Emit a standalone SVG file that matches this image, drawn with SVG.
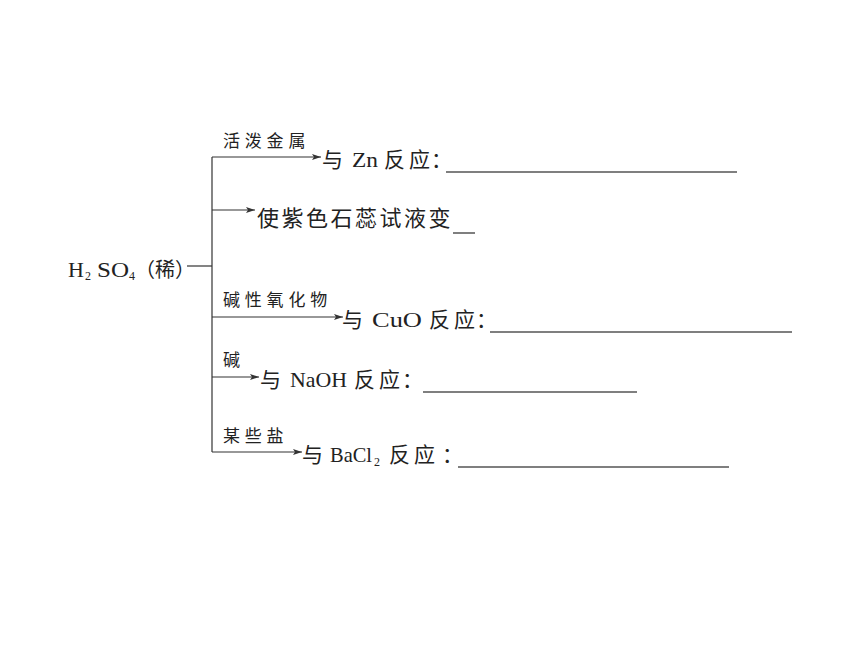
<svg xmlns="http://www.w3.org/2000/svg" width="860" height="645" viewBox="0 0 860 645">
<style>
.cjk{font-family:"Liberation Serif","Noto Sans CJK SC",serif;font-size:21px;fill:#222}
.big{font-size:22px;letter-spacing:2.5px}
.lbl{font-family:"Liberation Serif","Noto Sans CJK SC",serif;font-size:17px;letter-spacing:4.8px;fill:#222}
.lat{font-family:"Liberation Serif",serif;font-size:21px;fill:#222}
.sub{font-family:"Liberation Serif",serif;font-size:12px;fill:#222}
.ln{stroke:#333;stroke-width:1.2;fill:none}
.ar{stroke:#333;stroke-width:1.2;fill:none;marker-end:url(#ah)}
.ul{stroke:#555;stroke-width:1.5}
</style>
<defs>
<marker id="ah" markerUnits="userSpaceOnUse" markerWidth="10" markerHeight="8" refX="9" refY="3" orient="auto">
<path d="M0,0 L9,3 L0,6 L2,3 Z" fill="#333"/>
</marker>
</defs>
<rect width="860" height="645" fill="#fff"/>
<g id="connectors">
<line class="ln" x1="187" y1="266" x2="212" y2="266"/>
<line class="ln" x1="212" y1="157" x2="212" y2="452"/>
<line class="ar" x1="212" y1="157" x2="321" y2="157"/>
<line class="ar" x1="212" y1="210" x2="255" y2="210"/>
<line class="ar" x1="212" y1="317" x2="343" y2="317"/>
<line class="ar" x1="212" y1="377" x2="259" y2="377"/>
<line class="ar" x1="212" y1="452" x2="302" y2="452"/>
</g>
<g id="node-h2so4">
<text class="lat" x="68" y="277" style="font-size:22px">H</text>
<text class="sub" x="85" y="280">2</text>
<text class="lat" x="97" y="277" style="font-size:22px" textLength="32" lengthAdjust="spacingAndGlyphs">SO</text>
<text class="sub" x="129" y="280">4</text>
<text class="cjk" x="135" y="277" style="font-size:20px">（稀）</text>
</g>
<g id="node-zn">
<text class="lbl" x="223" y="147">活泼金属</text>
<text class="cjk" y="167"><tspan x="322">与</tspan><tspan x="352" class="lat" textLength="26" lengthAdjust="spacingAndGlyphs">Zn</tspan><tspan x="384">反</tspan><tspan x="409">应</tspan><tspan x="431">：</tspan></text>
<line class="ul" x1="446" y1="172" x2="737" y2="172"/>
</g>
<g id="node-litmus">
<text class="cjk big" x="257" y="226">使紫色石蕊试液变</text>
<line class="ul" x1="453" y1="233" x2="475" y2="233"/>
</g>
<g id="node-cuo">
<text class="lbl" x="223" y="306">碱性氧化物</text>
<text class="cjk" y="327"><tspan x="342">与</tspan><tspan x="372" class="lat" textLength="50" lengthAdjust="spacingAndGlyphs">CuO</tspan><tspan x="429">反</tspan><tspan x="454">应</tspan><tspan x="476">：</tspan></text>
<line class="ul" x1="490" y1="332" x2="792" y2="332"/>
</g>
<g id="node-naoh">
<text class="lbl" x="223" y="366">碱</text>
<text class="cjk" y="387"><tspan x="260">与</tspan><tspan x="290" class="lat" textLength="57" lengthAdjust="spacingAndGlyphs">NaOH</tspan><tspan x="354">反</tspan><tspan x="379">应</tspan><tspan x="402">：</tspan></text>
<line class="ul" x1="423" y1="392" x2="637" y2="392"/>
</g>
<g id="node-bacl2">
<text class="lbl" x="223" y="442">某些盐</text>
<text class="cjk" y="462"><tspan x="302">与</tspan><tspan x="330" class="lat" textLength="42" lengthAdjust="spacingAndGlyphs">BaCl</tspan></text>
<text class="sub" x="374" y="466">2</text>
<text class="cjk" y="462"><tspan x="389">反</tspan><tspan x="414">应</tspan><tspan x="442">：</tspan></text>
<line class="ul" x1="458" y1="467" x2="729" y2="467"/>
</g>
</svg>
